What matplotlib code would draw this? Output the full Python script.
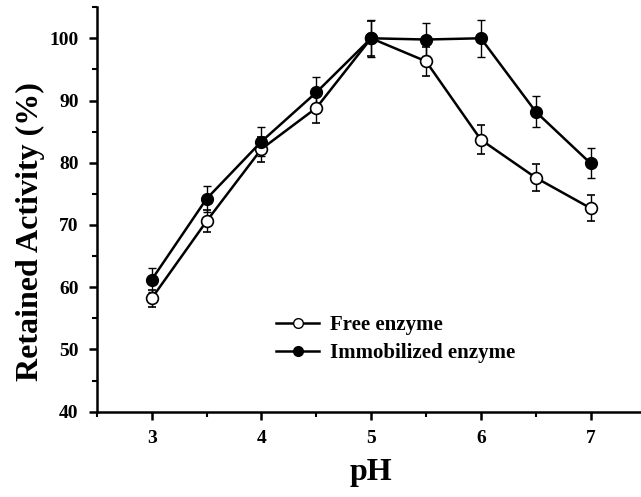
import numpy as np
import matplotlib
matplotlib.use('Agg')
import matplotlib.pyplot as plt
from matplotlib.ticker import MultipleLocator
from matplotlib.lines import Line2D

# -------------------------
# Data
# -------------------------
ph = [3, 3.5, 4, 4.5, 5, 5.5, 6, 6.5, 7]
free_activity = [58.2, 70.6, 82.2, 88.8, 100.0, 96.3, 83.7, 77.6, 72.7]
free_err = [1.3, 1.8, 2.0, 2.4, 2.8, 2.3, 2.3, 2.2, 2.1]
imm_activity = [61.2, 74.2, 83.4, 91.3, 100.0, 99.8, 100.0, 88.2, 79.9]
imm_err = [1.9, 2.1, 2.3, 2.5, 3.0, 2.7, 3.0, 2.5, 2.4]
series_names = ['Free enzyme', 'Immobilized enzyme']

plt.rcParams['font.family'] = ['Liberation Serif', 'DejaVu Serif']
plt.rcParams['font.weight'] = 'bold'

fig = plt.figure(figsize=(6.41, 4.97), dpi=100)
ax = fig.add_axes([0.151, 0.1716, 0.856, 0.814])

ax.errorbar(ph, free_activity, yerr=free_err, color='black', lw=1.8,
            marker='o', markersize=8.5, markerfacecolor='white',
            markeredgecolor='black', markeredgewidth=1.2,
            ecolor='black', elinewidth=1, capsize=3, capthick=1, zorder=3)
ax.errorbar(ph, imm_activity, yerr=imm_err, color='black', lw=1.8,
            marker='o', markersize=8.5, markerfacecolor='black',
            markeredgecolor='black',
            ecolor='black', elinewidth=1, capsize=3, capthick=1, zorder=3)

ax.set_xlim(2.5, 7.5)
ax.set_ylim(40, 105)
ax.xaxis.set_major_locator(MultipleLocator(1))
ax.xaxis.set_minor_locator(MultipleLocator(0.5))
ax.yaxis.set_major_locator(MultipleLocator(10))
ax.yaxis.set_minor_locator(MultipleLocator(5))

for side in ['top', 'right']:
    ax.spines[side].set_visible(False)
for side in ['left', 'bottom']:
    ax.spines[side].set_linewidth(1.8)

ax.tick_params(which='major', direction='out', length=6, width=1.8, labelsize=14, pad=7)
ax.tick_params(which='minor', direction='out', length=3.5, width=1.5)
for lbl in ax.get_xticklabels() + ax.get_yticklabels():
    lbl.set_fontweight('bold')

ax.set_xlabel('pH', fontsize=23, fontweight='bold', labelpad=8)
ax.set_ylabel('Retained Activity (%)', fontsize=23, fontweight='bold')
ax.yaxis.set_label_coords(-0.095, 0.446)

# legend without the error bars
handles = [
    Line2D([], [], color='black', lw=1.8, marker='o', markersize=7,
           markerfacecolor='white', markeredgecolor='black'),
    Line2D([], [], color='black', lw=1.8, marker='o', markersize=7,
           markerfacecolor='black', markeredgecolor='black'),
]
leg = ax.legend(handles, series_names, loc='upper left',
                bbox_to_anchor=(0.307, 0.265), frameon=False,
                fontsize=15, handlelength=2.1, handletextpad=0.5,
                labelspacing=0.4, borderpad=0)
for t in leg.get_texts():
    t.set_fontweight('bold')

fig.savefig('out.png', dpi=100)
